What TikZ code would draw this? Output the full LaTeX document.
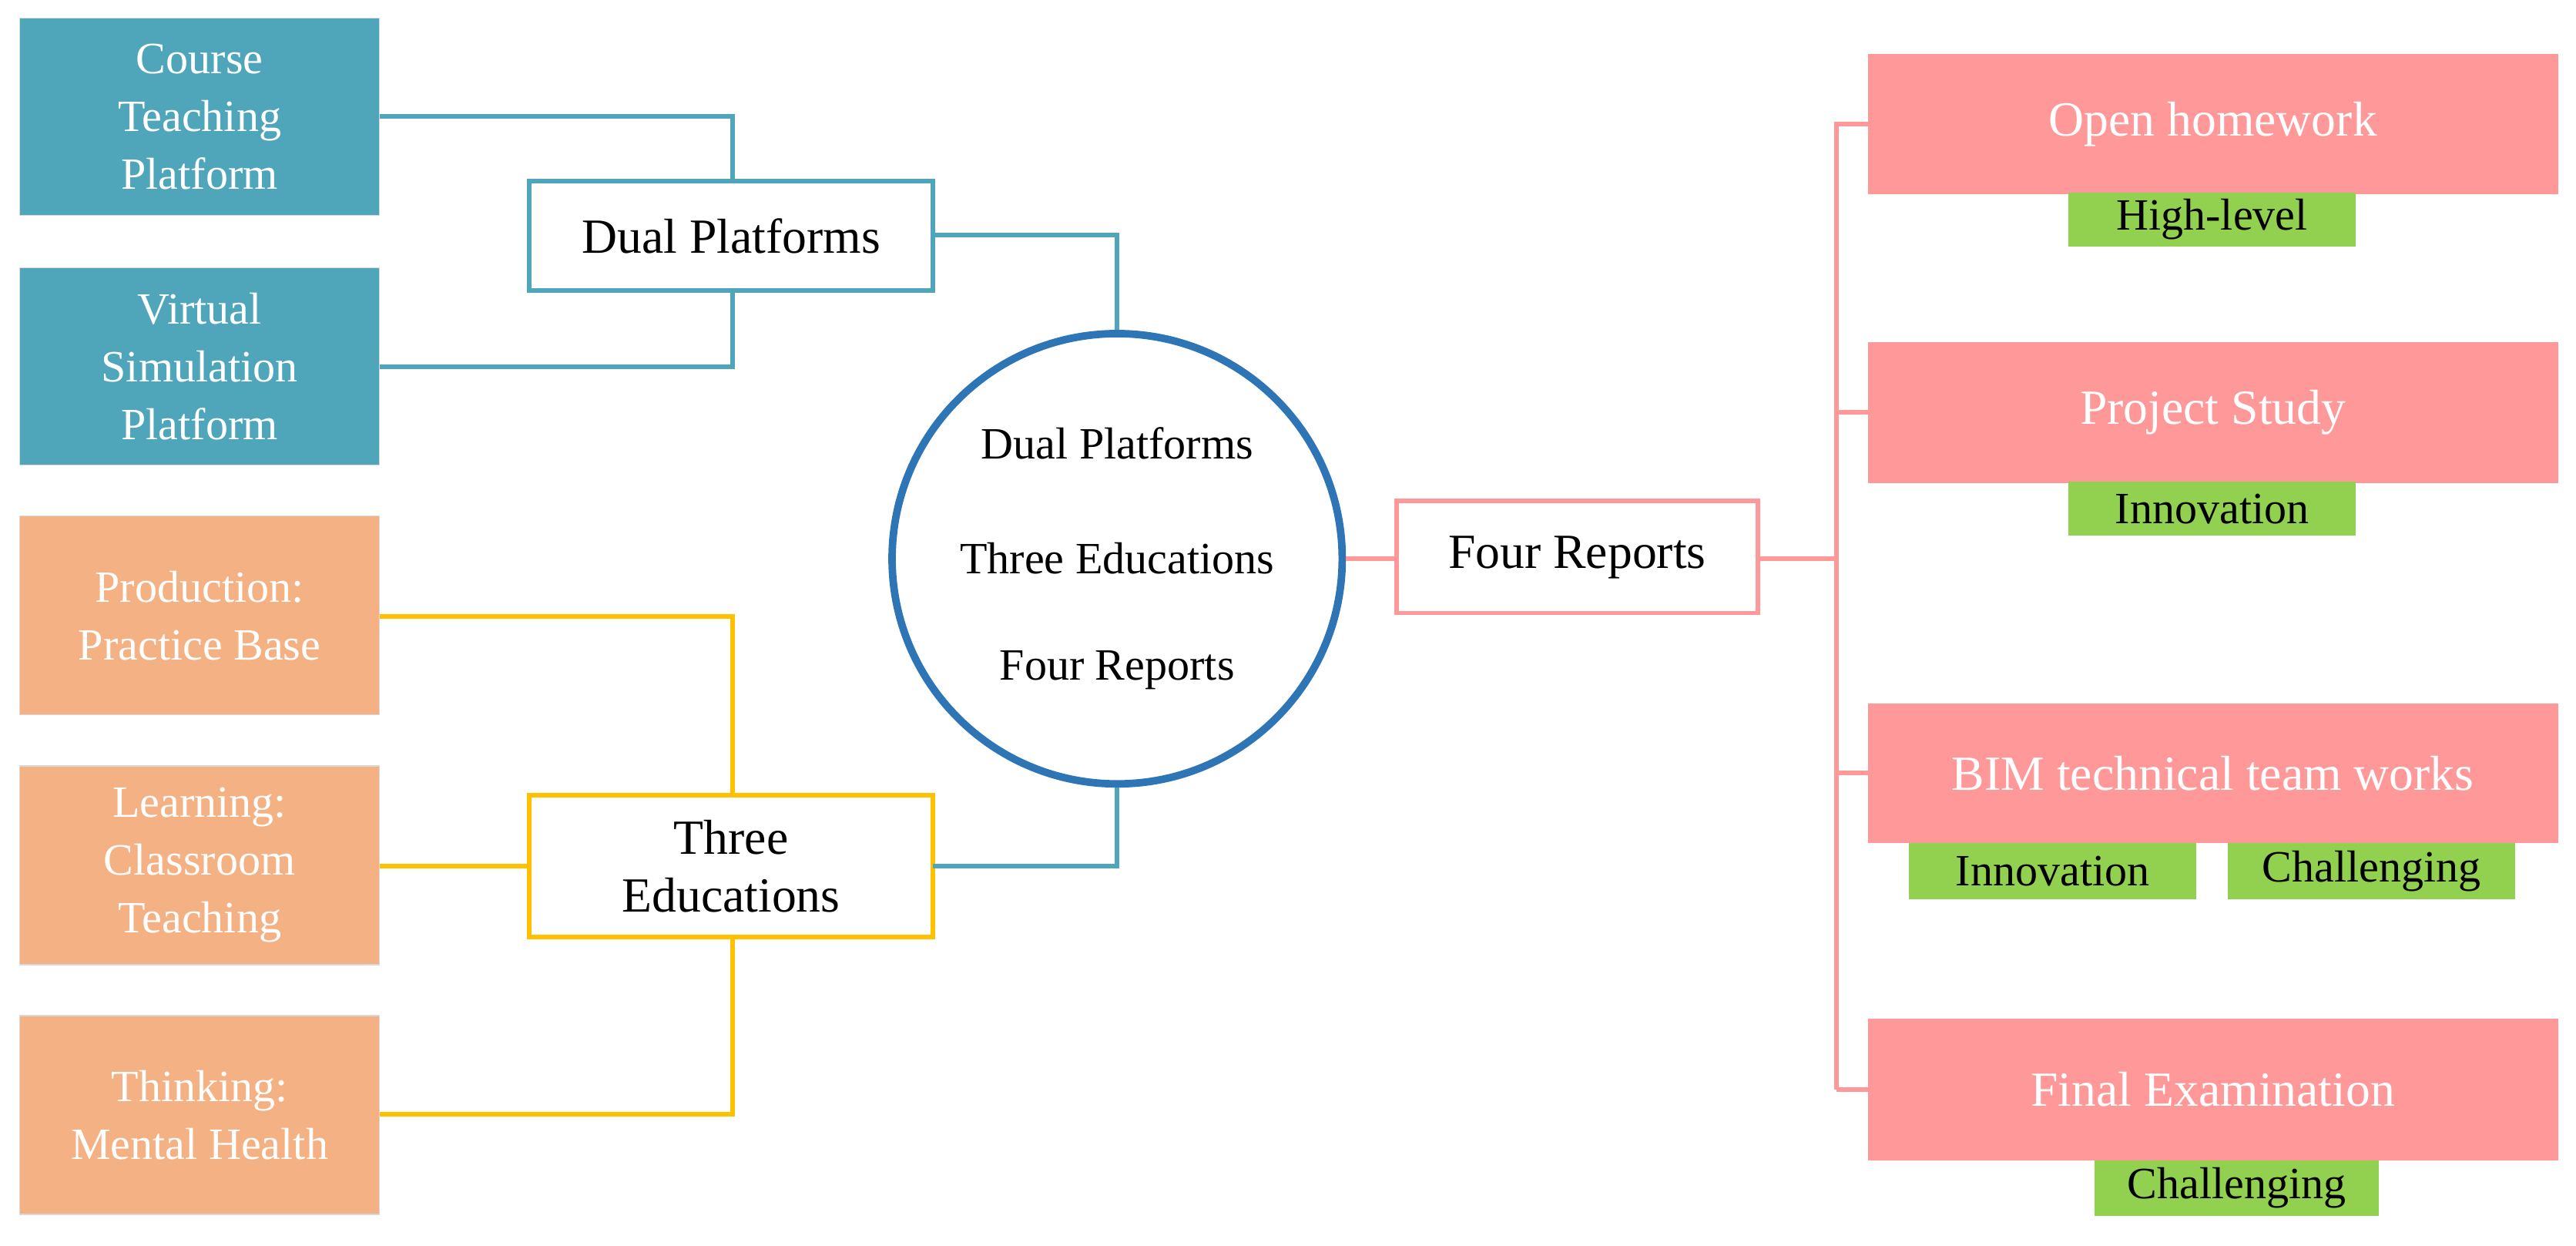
\documentclass[tikz,border=0pt]{standalone}
\usepackage{fontspec}
\setmainfont{Liberation Serif}
\begin{document}
\begin{tikzpicture}[x=0.02cm,y=-0.02cm,
  font=\fontsize{15.5}{20}\selectfont,
  teal/.style={fill=tealc,draw=black!15,text=white,align=center},
  orng/.style={fill=orngc,draw=black!15,text=white,align=center},
  pinkb/.style={fill=pinkc,text=white,align=center},
  tag/.style={fill=greenc,text=black},
  ln/.style={line width=1.6pt}]
\definecolor{tealc}{HTML}{4FA5B9}
\definecolor{orngc}{HTML}{F4B183}
\definecolor{pinkc}{HTML}{FF9999}
\definecolor{greenc}{HTML}{92D050}
\definecolor{yel}{HTML}{FFC000}
\definecolor{blu}{HTML}{2E75B6}
\useasboundingbox (0,0) rectangle (1568,758);
% left teal
\path[teal] (12,11) rectangle (231,131) node[midway] (c1) {Course\\Teaching\\Platform};
\path[teal] (12,163) rectangle (231,283) node[midway] (c2) {Virtual\\Simulation\\Platform};
\coordinate (c1r) at (231,71); \coordinate (c2r) at (231,223);
\draw[tealc,ln,fill=white] (322,110) rectangle (568,177) node[midway,text=black] (dp) {\fontsize{17}{21}\selectfont Dual Platforms};
\draw[tealc,ln] (c1r) -| (446,110);
\draw[tealc,ln] (c2r) -| (446,177);
% orange
\path[orng] (12,314) rectangle (231,435) node[midway] (o1) {Production:\\Practice Base};
\path[orng] (12,466) rectangle (231,587) node[midway] (o2) {Learning:\\Classroom\\Teaching};
\path[orng] (12,618) rectangle (231,739) node[midway] (o3) {Thinking:\\Mental Health};
\draw[yel,ln,fill=white] (322,484) rectangle (568,570) node[midway,text=black,align=center] (te) {\fontsize{17}{21}\selectfont Three\\\fontsize{17}{21}\selectfont Educations};
\draw[yel,ln] (231,375) -| (446,484);
\draw[yel,ln] (231,527) -- (322,527);
\draw[yel,ln] (231,678) -| (446,570);
% circle
\node[circle,draw=blu,line width=2.6pt,minimum size=274*0.02cm,align=center,inner sep=0] (ci) at (680,340) {};
\node at (680,270) {Dual Platforms};
\node at (680,340) {Three Educations};
\node at (680,408) {Four Reports};
\draw[tealc,ln] (568,143) -| (ci.north);
\draw[tealc,ln] (568,527) -| (ci.south);
% four reports
\draw[pinkc,ln,fill=white] (850,305) rectangle (1070,373) node[midway,text=black] (fr) {\fontsize{17}{21}\selectfont Four Reports};
\draw[pinkc,ln] (ci.east) -- (850,340);
\draw[pinkc,ln] (1070,340) -- (1118,340);
\draw[pinkc,ln] (1118,74) -- (1118,663);
\foreach \a/\b/\t in {33/118/Open homework,208/294/Project Study,428/513/BIM technical team works,620/706/Final Examination}{
  \path[pinkb] (1137,\a) rectangle (1557,\b) node[midway] {\fontsize{17}{21}\selectfont \t};
  \draw[pinkc,ln] (1118,{(\a+\b)/2}) -- (1137,{(\a+\b)/2});
}
\path[tag] (1259,117) rectangle (1434,150) node[midway] {High-level};
\path[tag] (1259,293) rectangle (1434,326) node[midway] {Innovation};
\path[tag] (1162,513) rectangle (1337,547) node[midway] {Innovation};
\path[tag] (1356,513) rectangle (1531,547) node[midway] {Challenging};
\path[tag] (1275,706) rectangle (1448,740) node[midway] {Challenging};
\end{tikzpicture}
\end{document}
